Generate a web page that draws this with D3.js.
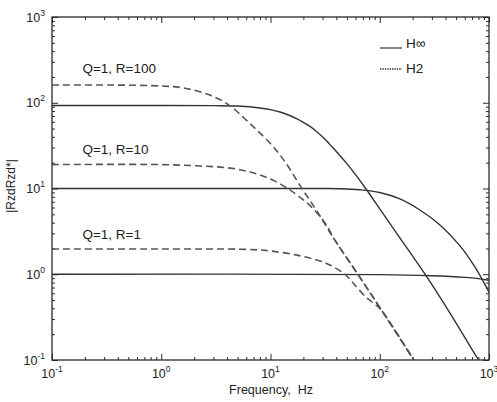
<!DOCTYPE html>
<html>
<head>
<meta charset="utf-8">
<script src="https://cdn.jsdelivr.net/npm/d3@7"></script>
<style>
  html, body { margin: 0; padding: 0; background: #fff; }
  svg { display: block; }
  text { font-family: "Liberation Sans", Arial, Helvetica, sans-serif; fill: #222; }
</style>
</head>
<body>
<svg id="chart" width="497" height="402"></svg>
<script>
// ---------------- data (frequency Hz, magnitude) ----------------
const xDomain = [0.1, 1000];
const yDomain = [0.1, 1000];
const decadeTicks = [0.1, 1, 10, 100, 1000];
const decadeExponents = ["-1", "0", "1", "2", "3"];

// H-infinity (solid)
const hinfR100 = [[0.1,93],[1,93],[3,92.5],[5,91.5],[8,87],[10,83],[12.2,78],[15,71],[17.5,65],[20,59],[23,53],[26.5,46],[30.9,38.5],[35,32.5],[40.6,26.5],[50,19.5],[60,14.5],[76,9.6],[100,5.8],[150,2.75],[270,0.93],[500,0.27],[776,0.107],[900,0.08]];
const hinfR10  = [[0.1,10],[10,10],[30,10],[43.3,9.95],[65.9,9.66],[100,8.98],[153,7.55],[233,5.61],[356,3.75],[543,2.14],[745,1.21],[1000,0.62]];
const hinfR1   = [[0.1,1.0],[100,0.99],[300,0.96],[600,0.92],[800,0.89],[1000,0.85]];

// H2 (dashed)
const h2R100 = [[0.1,161],[0.34,161],[0.975,157],[1.58,149],[2.79,123],[4.26,92],[5.85,64.6],[7.5,48],[10.3,32],[13.6,20.4],[19.8,9.6],[24.5,6.4],[28.4,4.78],[37.3,2.7],[63,1.0],[107,0.36],[200,0.105],[210,0.095]];
const h2R10  = [[0.1,19],[0.975,19],[2.26,18.3],[4.26,17.3],[6.5,15.6],[8.5,14.0],[11,12.2],[14.2,10.1],[17.5,8.4],[21.6,6.8],[26.7,5.2],[32.9,3.66],[37.3,2.72],[63,1.0],[107,0.36],[200,0.105],[210,0.095]];
const h2R1   = [[0.1,1.97],[1,1.97],[6,1.95],[10,1.87],[17.5,1.67],[28.4,1.43],[35,1.28],[48,1.0],[57,0.79],[76,0.53],[94,0.43],[107,0.36],[200,0.105],[210,0.095]];

const curveLabels = [
  {text: "Q=1, R=100", f: 0.19, v: 225},
  {text: "Q=1, R=10",  f: 0.19, v: 25},
  {text: "Q=1, R=1",   f: 0.19, v: 2.55}
];
const legendItems = [{name: "H\u221E", dash: null}, {name: "H2", dash: "1.4,1"}];

// ---------------- layout ----------------
const M = {left: 52, right: 489, top: 17, bottom: 360};
const svg = d3.select("#chart");
const x = d3.scaleLog().domain(xDomain).range([M.left, M.right]);
const y = d3.scaleLog().domain(yDomain).range([M.bottom, M.top]);

svg.append("defs").append("clipPath").attr("id", "clip")
  .append("rect").attr("x", M.left).attr("y", M.top)
  .attr("width", M.right - M.left).attr("height", M.bottom - M.top);

const ink = "#2a2a2a";

const minorX = x.ticks().filter(t => !decadeTicks.some(d => Math.abs(d - t) / d < 1e-6));
const minorY = y.ticks().filter(t => !decadeTicks.some(d => Math.abs(d - t) / d < 1e-6));

function tickAxis(axisGen, transform) {
  const g = svg.append("g").attr("transform", transform).call(axisGen);
  g.select(".domain").remove();
  g.selectAll("text").remove();
  g.selectAll("line").attr("stroke", ink).attr("stroke-width", 1);
  return g;
}
tickAxis(d3.axisBottom(x).tickValues(decadeTicks).tickSize(-6), `translate(0,${M.bottom})`);
tickAxis(d3.axisBottom(x).tickValues(minorX).tickSize(-3), `translate(0,${M.bottom})`);
tickAxis(d3.axisTop(x).tickValues(decadeTicks).tickSize(-6), `translate(0,${M.top})`);
tickAxis(d3.axisTop(x).tickValues(minorX).tickSize(-3), `translate(0,${M.top})`);
tickAxis(d3.axisLeft(y).tickValues(decadeTicks).tickSize(-6), `translate(${M.left},0)`);
tickAxis(d3.axisLeft(y).tickValues(minorY).tickSize(-3), `translate(${M.left},0)`);
tickAxis(d3.axisRight(y).tickValues(decadeTicks).tickSize(-6), `translate(${M.right},0)`);
tickAxis(d3.axisRight(y).tickValues(minorY).tickSize(-3), `translate(${M.right},0)`);

svg.append("rect").attr("x", M.left).attr("y", M.top)
  .attr("width", M.right - M.left).attr("height", M.bottom - M.top)
  .attr("fill", "none").attr("stroke", ink).attr("stroke-width", 1.3);

decadeTicks.forEach((t, i) => {
  const tx = svg.append("text").attr("x", x(t)).attr("y", M.bottom + 18)
    .attr("text-anchor", "middle").attr("font-size", 12.5);
  tx.append("tspan").text("10");
  tx.append("tspan").attr("dy", -6).attr("font-size", 8.5).text(decadeExponents[i]);

  const ty = svg.append("text").attr("x", M.left - 7).attr("y", y(t) + 4.5)
    .attr("text-anchor", "end").attr("font-size", 12.5);
  ty.append("tspan").text("10");
  ty.append("tspan").attr("dy", -6).attr("font-size", 8.5).text(decadeExponents[i]);
});

svg.append("text").attr("x", 271).attr("y", 394).attr("text-anchor", "middle")
  .attr("font-size", 12.5).text("Frequency,\u00A0 Hz");
svg.append("text").attr("transform", "translate(15,186) rotate(-90)")
  .attr("text-anchor", "middle").attr("font-size", 12).text("|RzdRzd*|");

const line = d3.line().x(d => x(d[0])).y(d => y(d[1])).curve(d3.curveCatmullRom.alpha(0.5));
const plot = svg.append("g").attr("clip-path", "url(#clip)");

[hinfR100, hinfR10, hinfR1].forEach(s => {
  plot.append("path").datum(s).attr("d", line)
    .attr("fill", "none").attr("stroke", "#333").attr("stroke-width", 1.4);
});
[h2R100, h2R10, h2R1].forEach(s => {
  plot.append("path").datum(s).attr("d", line)
    .attr("fill", "none").attr("stroke", "#555").attr("stroke-width", 1.6)
    .attr("stroke-dasharray", "7,4");
});

curveLabels.forEach(l => {
  svg.append("text").attr("x", x(l.f)).attr("y", y(l.v))
    .attr("font-size", 13.5).text(l.text);
});

legendItems.forEach((it, i) => {
  const ly = 48 + i * 21;
  const ln = svg.append("line").attr("x1", 380).attr("x2", 402)
    .attr("y1", ly).attr("y2", ly).attr("stroke", "#333").attr("stroke-width", 1.2);
  if (it.dash) ln.attr("stroke-dasharray", it.dash).attr("stroke-width", 1.6);
  svg.append("text").attr("x", 406).attr("y", ly + (i === 0 ? 0 : 4))
    .attr("font-size", 13.5).text(it.name);
});
</script>
</body>
</html>
